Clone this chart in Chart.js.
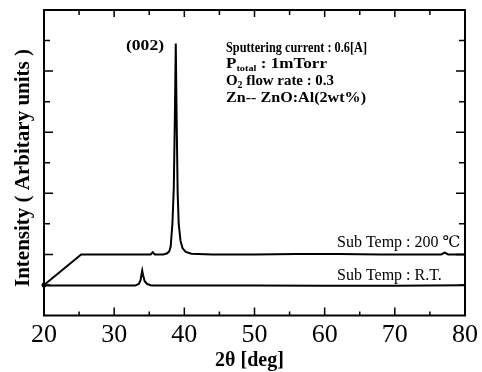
<!DOCTYPE html>
<html><head><meta charset="utf-8">
<script src="https://cdn.jsdelivr.net/npm/chart.js@4.4.1/dist/chart.umd.min.js"></script>
<style>html,body{margin:0;padding:0;background:#fff}</style>
</head><body>
<canvas id="c" width="482" height="372"></canvas>
<script>
// ---- data ----
const xTickLabels = ['20','30','40','50','60','70','80'];
const twoTheta200 = [20, 25.3, 28, 31, 34, 35.2, 35.5, 35.8, 37, 37.5, 37.85, 38.05, 38.3, 38.5, 38.65, 38.78, 38.9, 39.05, 39.2, 39.45, 39.75, 40.2, 41, 44, 50, 56, 62, 68, 74, 76.6, 77.1, 77.6, 80];
const intensity200 = [1.0, 2.0, 2.0, 2.0, 2.0, 2.0, 2.07, 2.0, 2.0, 2.03, 2.1, 2.25, 3.0, 4.2, 6.5, 8.9, 6.5, 4.0, 3.0, 2.45, 2.2, 2.08, 2.02, 2.0, 2.0, 2.01, 2.01, 2.0, 2.0, 2.0, 2.06, 2.0, 2.0];
const twoThetaRT = [20, 25, 30, 33.0, 33.5, 33.75, 33.9, 34.0, 34.12, 34.35, 34.7, 35.3, 40, 50, 60, 70, 80];
const intensityRT = [0.98, 0.98, 0.98, 0.98, 1.03, 1.15, 1.35, 1.47, 1.32, 1.12, 1.03, 0.98, 0.98, 0.98, 0.97, 0.97, 0.99];
const xTitle = '2\u03B8 [deg]';
const yTitle = 'Intensity ( Arbitary units )';
const peakLabel = '(002)';
const label200 = 'Sub Temp : 200 \u2103';
const labelRT = 'Sub Temp : R.T.';

const serif = '"Liberation Serif", "DejaVu Serif", serif';

function pts(xs, ys){ return xs.map((x,i)=>({x:x, y:ys[i]})); }

function drawRich(ctx, parts, x, y, target){
  // parts: [text, size, dy]
  let w = 0;
  parts.forEach(p=>{ ctx.font = 'bold '+p[1]+'px '+serif; w += ctx.measureText(p[0]).width; });
  const f = target ? target / w : 1;
  ctx.save();
  ctx.translate(x, y);
  ctx.scale(f, 1);
  let cx = 0;
  parts.forEach(p=>{
    ctx.font = 'bold '+p[1]+'px '+serif;
    ctx.fillText(p[0], cx, p[2] || 0);
    cx += ctx.measureText(p[0]).width;
  });
  ctx.restore();
}

const framePlugin = {
  id: 'frame',
  afterDraw(chart){
    const ctx = chart.ctx;
    const a = chart.chartArea;
    const xs = chart.scales.x, ys = chart.scales.y;
    ctx.save();
    ctx.strokeStyle = '#000';
    ctx.lineWidth = 2;
    ctx.strokeRect(a.left, a.top, a.right - a.left, a.bottom - a.top);
    ctx.lineWidth = 1.5;
    ctx.beginPath();
    for (let v = 25; v < 80; v += 5) {
      const px = xs.getPixelForValue(v);
      const len = (v % 10 === 0) ? 8 : 4;
      ctx.moveTo(px, a.bottom); ctx.lineTo(px, a.bottom - len);
      ctx.moveTo(px, a.top); ctx.lineTo(px, a.top + (v % 10 === 0 ? 7 : 5));
    }
    for (let v = 1; v < 10; v++) {
      const py = ys.getPixelForValue(v);
      const len = (v % 2 === 0) ? 9 : 6;
      ctx.moveTo(a.left, py); ctx.lineTo(a.left + len, py);
      ctx.moveTo(a.right, py); ctx.lineTo(a.right - len, py);
    }
    ctx.stroke();
    // start dot
    ctx.fillStyle = '#000';
    ctx.beginPath();
    ctx.arc(xs.getPixelForValue(20), ys.getPixelForValue(1), 2.5, 0, Math.PI*2);
    ctx.fill();

    ctx.textBaseline = 'alphabetic';
    ctx.textAlign = 'left';
    // annotations
    drawRich(ctx, [[peakLabel, 14.5]], 126, 50, 38);
    drawRich(ctx, [['Sputtering current : 0.6[A]', 15]], 226, 52, 141);
    drawRich(ctx, [['P', 15], ['total', 9, 2.5], [' : 1mTorr', 15]], 226, 68, 101);
    drawRich(ctx, [['O', 15], ['2', 10, 3], [' flow rate : 0.3', 15]], 226, 85, 108);
    drawRich(ctx, [['Zn-- ZnO:Al(2wt%)', 15]], 226, 102, 140);

    ctx.font = '16px ' + serif;
    ctx.fillText(label200, 337, 247);
    ctx.fillText(labelRT, 337, 280);

    // axis titles
    ctx.font = 'bold 20px ' + serif;
    ctx.textAlign = 'center';
    ctx.fillText(xTitle, 249.5, 366);
    ctx.save();
    ctx.translate(29, 168);
    ctx.rotate(-Math.PI/2);
    ctx.font = 'bold 21px ' + serif;
    ctx.fillText(yTitle, 0, 0);
    ctx.restore();
    ctx.restore();
  }
};

new Chart(document.getElementById('c'), {
  type: 'scatter',
  data: {
    datasets: [
      { data: pts(twoTheta200, intensity200), showLine: true, borderColor: '#000', borderWidth: 2, pointRadius: 0, tension: 0 },
      { data: pts(twoThetaRT, intensityRT), showLine: true, borderColor: '#000', borderWidth: 2, pointRadius: 0, tension: 0 }
    ]
  },
  options: {
    responsive: false,
    animation: false,
    layout: { padding: { left: 0, right: 13, top: 10, bottom: 0 } },
    plugins: { legend: { display: false }, tooltip: { enabled: false } },
    scales: {
      x: {
        type: 'linear', min: 20, max: 80,
        afterFit(s){ s.height = 56.5; },
        grid: { display: false, drawTicks: false },
        border: { display: false },
        ticks: {
          stepSize: 10, color: '#000', padding: 4,
          font: { family: serif, size: 26 },
          callback: (v) => { const i = xTickLabels.indexOf(String(v)); return i >= 0 ? xTickLabels[i] : ''; }
        }
      },
      y: {
        min: 0, max: 10,
        afterFit(s){ s.width = 44; },
        grid: { display: false, drawTicks: false },
        border: { display: false },
        ticks: { display: false }
      }
    }
  },
  plugins: [framePlugin]
});
</script>
</body></html>
